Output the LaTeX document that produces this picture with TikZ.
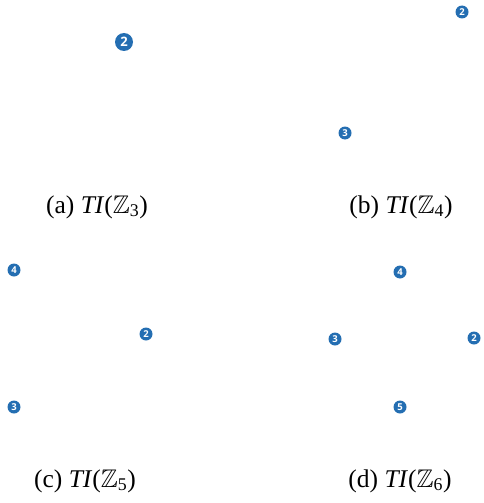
\documentclass[tikz,border=0pt]{standalone}
\usepackage{amsmath,amssymb}
\usepackage{fontspec}
\setmainfont{Liberation Serif}
\newfontfamily\numfont{Open Sans}
\definecolor{dotblue}{RGB}{36,110,178}
\newcommand{\tiz}[1]{\textit{TI}($\mathbb{Z}_{\text{#1}}$)}
\tikzset{
  vtx/.style={circle, fill=dotblue, inner sep=0pt, minimum size=13pt, text=white, font=\numfont\bfseries\fontsize{9.5}{9.5}\selectfont},
  bigvtx/.style={vtx, minimum size=18pt, font=\numfont\bfseries\fontsize{13}{13}\selectfont},
  captxt/.style={font=\fontsize{25.5}{27}\selectfont, inner sep=0pt}
}
\begin{document}
\begin{tikzpicture}[x=1pt,y=-1pt]
\useasboundingbox (0,0) rectangle (483,503);
% (a)
\node[bigvtx] (a2) at (124,42) {2};
\node[captxt] (ca) at (97,207) {(a) \tiz{3}};
% (b)
\node[vtx] (b2) at (462,12) {2};
\node[vtx] (b3) at (345,133) {3};
\node[captxt] (cb) at (401,207) {(b) \tiz{4}};
% (c)
\node[vtx] (c4) at (14,270) {4};
\node[vtx] (c2) at (146,334) {2};
\node[vtx] (c3) at (14,407) {3};
\node[captxt] (cc) at (85,481) {(c) \tiz{5}};
% (d)
\node[vtx] (d4) at (400,272) {4};
\node[vtx] (d3) at (335,339) {3};
\node[vtx] (d2) at (474,338) {2};
\node[vtx] (d5) at (400,407) {5};
\node[captxt] (cd) at (400,481) {(d) \tiz{6}};
\end{tikzpicture}
\end{document}
